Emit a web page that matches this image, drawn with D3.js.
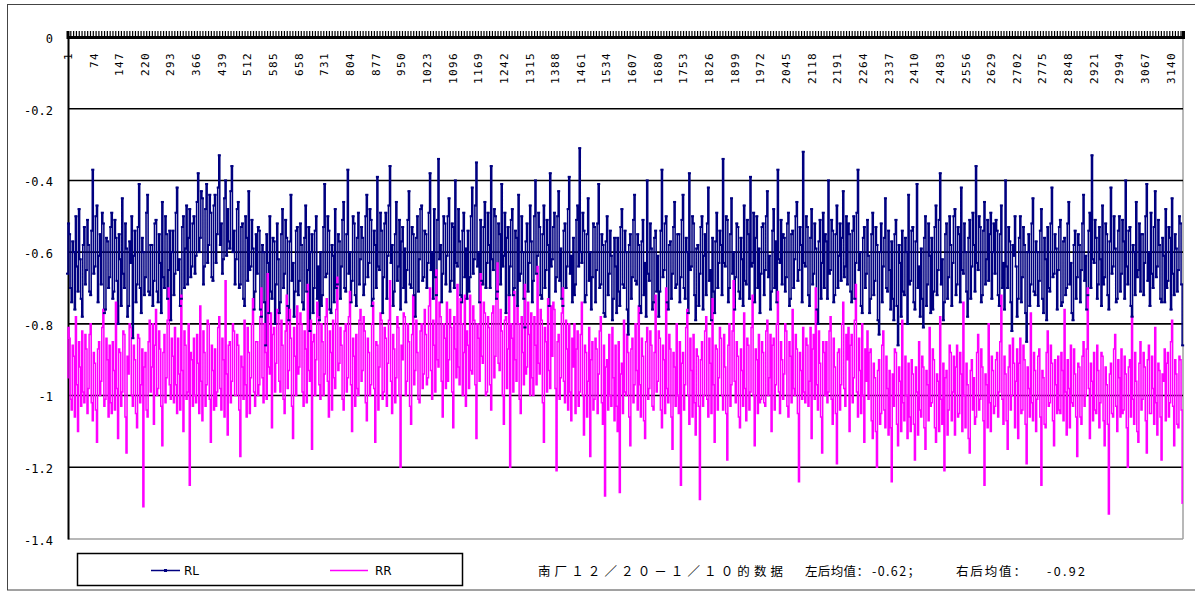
<!DOCTYPE html>
<html>
<head>
<meta charset="utf-8">
<script src="https://cdn.jsdelivr.net/npm/d3@7"></script>
<style>
  html, body { margin: 0; padding: 0; background: #fff; }
  svg { display: block; }
  .ylab text { font-family: "DejaVu Sans Mono", monospace; font-size: 12px; fill: #000; }
  .xlab text { font-family: "DejaVu Sans Mono", monospace; font-size: 11px; fill: #000; letter-spacing: 1.4px; }
  .legend text { font-family: "DejaVu Sans", sans-serif; font-size: 12px; fill: #000; }
  .note { font-family: "Noto Sans CJK SC", sans-serif; font-size: 12.5px; fill: #000; }
</style>
</head>
<body>
<svg id="chart" width="1195" height="592"></svg>
<script>
// readings 1..3176, one value kept for every 3rd reading
const nReadings = 3176;
const sampleStep = 3;

const tickLabels = [1, 74, 147, 220, 293, 366, 439, 512, 585, 658, 731, 804, 877, 950, 1023, 1096,
  1169, 1242, 1315, 1388, 1461, 1534, 1607, 1680, 1753, 1826, 1899, 1972, 2045, 2118, 2191,
  2264, 2337, 2410, 2483, 2556, 2629, 2702, 2775, 2848, 2921, 2994, 3067, 3140];

const yTicks = [0, -0.2, -0.4, -0.6, -0.8, -1, -1.2, -1.4];

const seriesNames = ['RL', 'RR'];
const noteText = ['南厂１２／２０－１／１０的数据', '左后均值：', '-0.62；', '右后均值：', '-0.92'];

// RL (rear left)
const rl = [
  -0.66,-0.52,-0.55,-0.70,-0.74,-0.57,-0.60,-0.76,-0.50,-0.64,-0.71,-0.48,-0.62,-0.73,-0.78,-0.58,-0.53,-0.69,-0.65,-0.51,
  -0.58,-0.71,-0.72,-0.54,-0.37,-0.66,-0.64,-0.50,-0.47,-0.74,-0.61,-0.55,-0.69,-0.49,-0.52,-0.77,-0.76,-0.56,-0.57,-0.70,
  -0.67,-0.53,-0.49,-0.73,-0.71,-0.51,-0.56,-0.68,-0.80,-0.55,-0.62,-0.75,-0.45,-0.66,-0.70,-0.52,-0.59,-0.78,-0.75,-0.57,
  -0.63,-0.50,-0.84,-0.61,-0.54,-0.74,-0.69,-0.53,-0.41,-0.70,-0.77,-0.56,-0.60,-0.72,-0.67,-0.49,-0.44,-0.71,-0.72,-0.58,
  -0.58,-0.75,-0.68,-0.52,-0.51,-0.71,-0.74,-0.55,-0.63,-0.77,-0.46,-0.67,-0.70,-0.50,-0.55,-0.73,-0.65,-0.54,-0.79,-0.60,
  -0.54,-0.72,-0.66,-0.49,-0.42,-0.65,-0.62,-0.75,-0.73,-0.53,-0.50,-0.70,-0.59,-0.47,-0.69,-0.56,-0.48,-0.67,-0.64,-0.52,
  -0.50,-0.66,-0.61,-0.46,-0.38,-0.60,-0.56,-0.43,-0.45,-0.69,-0.64,-0.48,-0.41,-0.63,-0.58,-0.44,-0.49,-0.67,-0.68,-0.47,
  -0.44,-0.63,-0.55,-0.42,-0.33,-0.58,-0.52,-0.66,-0.62,-0.45,-0.40,-0.61,-0.48,-0.57,-0.59,-0.43,-0.36,-0.60,-0.54,-0.69,
  -0.62,-0.48,-0.46,-0.70,-0.69,-0.53,-0.52,-0.73,-0.75,-0.50,-0.56,-0.68,-0.43,-0.65,-0.64,-0.51,-0.59,-0.76,-0.71,-0.55,
  -0.66,-0.53,-0.54,-0.76,-0.78,-0.58,-0.60,-0.74,-0.86,-0.55,-0.63,-0.77,-0.50,-0.71,-0.73,-0.56,-0.57,-0.80,-0.69,-0.52,
  -0.62,-0.77,-0.74,-0.55,-0.48,-0.70,-0.66,-0.51,-0.56,-0.75,-0.79,-0.57,-0.44,-0.68,-0.63,-0.78,-0.71,-0.54,-0.53,-0.72,
  -0.68,-0.52,-0.58,-0.74,-0.76,-0.56,-0.47,-0.71,-0.65,-0.53,-0.82,-0.60,-0.55,-0.77,-0.70,-0.54,-0.50,-0.73,-0.64,-0.79,
  -0.60,-0.75,-0.72,-0.53,-0.41,-0.67,-0.66,-0.50,-0.54,-0.76,-0.77,-0.58,-0.61,-0.74,-0.48,-0.70,-0.69,-0.55,-0.57,-0.73,
  -0.64,-0.51,-0.46,-0.70,-0.71,-0.55,-0.37,-0.66,-0.60,-0.74,-0.68,-0.50,-0.52,-0.72,-0.75,-0.56,-0.49,-0.69,-0.62,-0.53,
  -0.56,-0.72,-0.69,-0.50,-0.44,-0.67,-0.63,-0.48,-0.51,-0.75,-0.73,-0.54,-0.58,-0.70,-0.39,-0.64,-0.65,-0.49,-0.54,-0.77,
  -0.67,-0.52,-0.49,-0.73,-0.61,-0.47,-0.36,-0.63,-0.58,-0.75,-0.71,-0.55,-0.46,-0.68,-0.64,-0.51,-0.76,-0.57,-0.53,-0.70,
  -0.59,-0.74,-0.65,-0.51,-0.43,-0.69,-0.70,-0.53,-0.55,-0.72,-0.78,-0.56,-0.50,-0.71,-0.62,-0.48,-0.47,-0.68,-0.67,-0.54,
  -0.55,-0.70,-0.63,-0.49,-0.38,-0.65,-0.60,-0.73,-0.48,-0.67,-0.72,-0.51,-0.34,-0.62,-0.58,-0.74,-0.66,-0.50,-0.52,-0.69,
  -0.61,-0.50,-0.45,-0.71,-0.68,-0.52,-0.53,-0.70,-0.40,-0.63,-0.64,-0.48,-0.57,-0.72,-0.74,-0.54,-0.49,-0.67,-0.59,-0.73,
  -0.54,-0.71,-0.67,-0.50,-0.42,-0.66,-0.62,-0.47,-0.35,-0.64,-0.60,-0.74,-0.51,-0.68,-0.69,-0.53,-0.46,-0.70,-0.63,-0.49,
  -0.58,-0.70,-0.36,-0.62,-0.65,-0.48,-0.50,-0.73,-0.71,-0.52,-0.55,-0.69,-0.41,-0.64,-0.61,-0.49,-0.77,-0.56,-0.53,-0.72,
  -0.64,-0.51,-0.48,-0.72,-0.70,-0.54,-0.56,-0.75,-0.44,-0.68,-0.66,-0.50,-0.60,-0.73,-0.81,-0.57,-0.52,-0.71,-0.63,-0.47,
  -0.57,-0.74,-0.68,-0.50,-0.40,-0.66,-0.61,-0.49,-0.53,-0.72,-0.73,-0.55,-0.47,-0.70,-0.65,-0.51,-0.58,-0.75,-0.38,-0.64,
  -0.62,-0.53,-0.49,-0.71,-0.67,-0.50,-0.43,-0.68,-0.59,-0.73,-0.75,-0.54,-0.52,-0.70,-0.64,-0.48,-0.39,-0.66,-0.61,-0.74,
  -0.56,-0.72,-0.69,-0.51,-0.47,-0.64,-0.31,-0.60,-0.63,-0.49,-0.54,-0.74,-0.72,-0.55,-0.45,-0.68,-0.60,-0.76,-0.67,-0.52,
  -0.53,-0.74,-0.65,-0.52,-0.41,-0.70,-0.69,-0.55,-0.58,-0.77,-0.78,-0.57,-0.50,-0.72,-0.66,-0.54,-0.61,-0.79,-0.73,-0.56,
  -0.64,-0.77,-0.56,-0.71,-0.75,-0.53,-0.48,-0.69,-0.70,-0.54,-0.60,-0.76,-0.83,-0.58,-0.55,-0.73,-0.67,-0.51,-0.44,-0.68,
  -0.69,-0.55,-0.58,-0.75,-0.77,-0.57,-0.51,-0.72,-0.63,-0.78,-0.40,-0.66,-0.68,-0.52,-0.59,-0.76,-0.74,-0.56,-0.54,-0.71,
  -0.61,-0.78,-0.71,-0.54,-0.37,-0.67,-0.65,-0.52,-0.50,-0.74,-0.76,-0.58,-0.57,-0.73,-0.66,-0.53,-0.46,-0.70,-0.69,-0.55,
  -0.55,-0.74,-0.67,-0.51,-0.44,-0.70,-0.73,-0.56,-0.60,-0.77,-0.38,-0.65,-0.64,-0.50,-0.52,-0.72,-0.79,-0.59,-0.58,-0.75,
  -0.66,-0.53,-0.50,-0.76,-0.61,-0.55,-0.72,-0.52,-0.42,-0.68,-0.65,-0.79,-0.56,-0.71,-0.77,-0.57,-0.49,-0.70,-0.63,-0.54,
  -0.58,-0.72,-0.34,-0.63,-0.64,-0.50,-0.51,-0.74,-0.70,-0.55,-0.45,-0.66,-0.60,-0.76,-0.67,-0.52,-0.53,-0.71,-0.73,-0.56,
  -0.62,-0.75,-0.47,-0.68,-0.69,-0.51,-0.55,-0.73,-0.39,-0.64,-0.63,-0.49,-0.74,-0.56,-0.50,-0.70,-0.59,-0.77,-0.66,-0.53,
  -0.52,-0.72,-0.65,-0.50,-0.43,-0.67,-0.61,-0.76,-0.71,-0.54,-0.48,-0.70,-0.57,-0.74,-0.37,-0.62,-0.63,-0.51,-0.69,-0.55,
  -0.56,-0.71,-0.67,-0.52,-0.49,-0.75,-0.73,-0.55,-0.54,-0.70,-0.62,-0.50,-0.46,-0.68,-0.65,-0.53,-0.58,-0.74,-0.32,-0.63,
  -0.64,-0.50,-0.53,-0.72,-0.75,-0.56,-0.48,-0.69,-0.66,-0.52,-0.59,-0.76,-0.80,-0.57,-0.51,-0.73,-0.63,-0.49,-0.70,-0.55,
  -0.57,-0.73,-0.40,-0.66,-0.65,-0.51,-0.54,-0.74,-0.72,-0.55,-0.47,-0.70,-0.61,-0.52,-0.68,-0.56,-0.43,-0.67,-0.64,-0.50,
  -0.69,-0.52,-0.55,-0.71,-0.74,-0.54,-0.50,-0.73,-0.63,-0.49,-0.37,-0.65,-0.60,-0.75,-0.77,-0.56,-0.53,-0.70,-0.66,-0.51,
  -0.61,-0.77,-0.73,-0.55,-0.49,-0.72,-0.68,-0.53,-0.58,-0.79,-0.83,-0.60,-0.52,-0.74,-0.64,-0.56,-0.45,-0.70,-0.71,-0.54,
  -0.65,-0.76,-0.57,-0.73,-0.79,-0.55,-0.51,-0.75,-0.86,-0.58,-0.63,-0.78,-0.54,-0.71,-0.72,-0.56,-0.60,-0.80,-0.44,-0.69,
  -0.68,-0.54,-0.53,-0.74,-0.76,-0.57,-0.41,-0.70,-0.64,-0.78,-0.59,-0.73,-0.81,-0.56,-0.50,-0.75,-0.69,-0.52,-0.61,-0.77,
  -0.56,-0.76,-0.71,-0.53,-0.47,-0.72,-0.65,-0.51,-0.38,-0.69,-0.62,-0.79,-0.74,-0.55,-0.52,-0.73,-0.67,-0.50,-0.58,-0.75,
  -0.63,-0.50,-0.48,-0.72,-0.69,-0.53,-0.55,-0.74,-0.42,-0.65,-0.66,-0.52,-0.60,-0.71,-0.78,-0.56,-0.51,-0.73,-0.64,-0.49,
  -0.58,-0.71,-0.36,-0.63,-0.65,-0.50,-0.53,-0.74,-0.72,-0.54,-0.46,-0.69,-0.62,-0.51,-0.68,-0.55,-0.49,-0.73,-0.60,-0.52,
  -0.66,-0.51,-0.54,-0.72,-0.75,-0.55,-0.47,-0.70,-0.63,-0.76,-0.40,-0.64,-0.70,-0.53,-0.57,-0.74,-0.82,-0.58,-0.61,-0.50,
  -0.64,-0.78,-0.73,-0.56,-0.50,-0.74,-0.67,-0.53,-0.58,-0.77,-0.85,-0.60,-0.55,-0.75,-0.69,-0.52,-0.45,-0.71,-0.72,-0.57,
  -0.60,-0.75,-0.68,-0.54,-0.48,-0.73,-0.77,-0.56,-0.62,-0.79,-0.53,-0.70,-0.71,-0.52,-0.42,-0.67,-0.66,-0.55,-0.59,-0.76,
  -0.65,-0.53,-0.51,-0.75,-0.74,-0.57,-0.56,-0.72,-0.70,-0.52,-0.46,-0.69,-0.63,-0.77,-0.79,-0.58,-0.54,-0.73,-0.67,-0.55,
  -0.58,-0.74,-0.65,-0.52,-0.44,-0.68,-0.61,-0.76,-0.72,-0.54,-0.49,-0.70,-0.33,-0.62,-0.63,-0.51,-0.56,-0.73,-0.69,-0.53,
  -0.62,-0.75,-0.47,-0.69,-0.67,-0.52,-0.55,-0.72,-0.76,-0.57,-0.42,-0.66,-0.64,-0.50,-0.59,-0.74,-0.73,-0.54,-0.50,-0.71,
  -0.66,-0.51,-0.57,-0.73,-0.40,-0.64,-0.69,-0.54,-0.53,-0.75,-0.78,-0.58,-0.60,-0.72,-0.46,-0.67,-0.65,-0.52,-0.71,-0.55,
  -0.55,-0.72,-0.63,-0.50,-0.41,-0.68,-0.60,-0.75,-0.49,-0.66,-0.70,-0.53,-0.43,-0.67,-0.64,-0.51,-0.58,-0.73,-0.74,-0.56,
  -0.61,-0.74,-0.48,-0.70,-0.68,-0.53,-0.56,-0.76,-0.45,-0.66,-0.72,-0.55,-0.59,-0.71,-0.65,-0.50,-0.52,-0.69,-0.86
];

// RR (rear right)
const rr = [
  -0.95,-0.81,-0.84,-1.01,-1.04,-0.86,-0.89,-1.06,-0.78,-0.97,-1.10,-0.85,-0.92,-1.03,-0.82,-0.99,-1.02,-0.83,-0.87,-1.05,
  -0.98,-0.83,-0.80,-1.02,-1.07,-0.88,-0.91,-1.04,-1.13,-0.87,-0.85,-1.00,-0.96,-0.81,-0.76,-1.03,-1.01,-0.84,-0.90,-1.06,
  -0.86,-1.02,-1.05,-0.85,-0.93,-1.04,-0.74,-0.98,-1.12,-0.87,-0.88,-1.03,-0.99,-0.82,-0.83,-1.06,-1.16,-0.89,-0.94,-0.80,
  -0.81,-1.00,-1.03,-0.86,-0.90,-1.05,-1.09,-0.83,-0.84,-1.02,-0.97,-0.87,-1.31,-0.92,-0.88,-1.04,-1.06,-0.85,-0.79,-0.99,
  -0.92,-0.80,-1.08,-0.86,-0.76,-1.00,-0.98,-0.82,-0.87,-1.03,-1.14,-0.88,-0.83,-1.02,-0.95,-0.79,-0.70,-0.97,-1.01,-0.84,
  -0.89,-1.02,-0.81,-0.97,-1.05,-0.84,-0.94,-1.04,-0.72,-0.93,-1.10,-0.82,-0.86,-1.01,-0.99,-0.80,-1.25,-0.88,-0.90,-1.03,
  -0.84,-1.00,-1.02,-0.83,-0.91,-1.05,-0.75,-0.96,-1.07,-0.82,-0.88,-1.03,-0.97,-0.79,-0.80,-1.01,-1.13,-0.86,-0.93,-1.04,
  -0.87,-1.03,-0.99,-0.81,-0.78,-0.98,-1.04,-0.84,-0.90,-1.06,-0.68,-0.94,-1.11,-0.86,-0.85,-1.02,-0.96,-0.80,-0.82,-1.00,
  -1.00,-0.83,-0.86,-1.04,-1.17,-0.89,-0.92,-1.01,-0.79,-0.97,-1.06,-0.81,-0.88,-1.05,-0.95,-0.80,-0.73,-0.99,-1.03,-0.85,
  -0.85,-1.00,-0.97,-0.78,-0.70,-0.95,-1.02,-0.80,-0.88,-1.01,-0.66,-0.92,-0.94,-0.77,-1.09,-0.83,-0.81,-0.99,-0.91,-0.76,
  -0.77,-0.96,-0.99,-0.79,-0.86,-1.01,-1.05,-0.82,-0.72,-0.98,-0.93,-0.76,-0.84,-1.03,-1.12,-0.81,-0.89,-1.00,-0.75,-0.94,
  -0.92,-0.77,-0.80,-0.99,-1.03,-0.82,-0.87,-1.02,-0.69,-0.93,-0.96,-0.79,-1.15,-0.85,-0.83,-1.00,-0.90,-0.74,-0.78,-0.97,
  -1.01,-0.80,-0.85,-1.00,-0.94,-0.78,-0.73,-0.96,-1.06,-0.82,-0.88,-1.04,-0.79,-0.95,-0.98,-0.76,-0.67,-0.93,-0.91,-0.81,
  -0.86,-1.01,-1.04,-0.82,-0.80,-0.99,-0.95,-0.78,-0.71,-0.97,-1.10,-0.84,-0.89,-1.03,-0.83,-0.98,-1.00,-0.79,-0.76,-0.96,
  -0.93,-0.78,-0.82,-1.02,-1.07,-0.84,-0.88,-1.00,-0.97,-0.80,-0.74,-0.98,-1.13,-0.85,-0.86,-1.04,-0.92,-0.77,-0.79,-1.01,
  -0.99,-0.81,-0.84,-1.03,-0.91,-0.79,-0.68,-0.96,-1.05,-0.83,-0.87,-1.02,-0.95,-0.78,-0.81,-1.00,-1.20,-0.86,-0.90,-0.77,
  -0.78,-1.00,-0.96,-0.80,-0.85,-1.03,-1.08,-0.83,-0.72,-0.97,-0.93,-0.79,-0.88,-1.01,-1.02,-0.82,-0.80,-0.98,-0.94,-0.76,
  -0.83,-0.97,-0.95,-0.75,-0.70,-0.93,-1.01,-0.79,-0.86,-0.99,-0.65,-0.90,-0.92,-0.74,-0.78,-0.96,-1.06,-0.80,-0.84,-0.98,
  -0.74,-0.96,-0.90,-0.76,-0.81,-0.99,-1.09,-0.78,-0.87,-0.95,-0.69,-0.92,-0.97,-0.73,-0.80,-1.00,-0.88,-0.72,-1.03,-0.82,
  -0.86,-0.98,-0.72,-0.93,-0.94,-0.75,-0.79,-0.97,-1.12,-0.80,-0.84,-0.96,-0.66,-0.89,-0.91,-0.74,-0.77,-1.00,-0.99,-0.78,
  -0.81,-0.97,-1.04,-0.77,-0.75,-0.95,-0.89,-0.73,-0.63,-0.91,-0.93,-0.76,-0.82,-1.00,-1.08,-0.79,-0.78,-0.98,-0.87,-0.72,
  -1.20,-0.80,-0.84,-0.99,-0.71,-0.90,-0.96,-0.75,-0.80,-1.01,-1.05,-0.78,-0.88,-0.97,-0.69,-0.94,-0.92,-0.74,-0.83,-1.00,
  -0.77,-0.95,-1.00,-0.78,-0.86,-0.97,-0.64,-0.91,-0.94,-0.76,-0.79,-1.02,-1.13,-0.81,-0.85,-0.99,-0.73,-0.93,-0.98,-0.75,
  -0.89,-0.74,-0.76,-0.98,-1.21,-0.85,-0.83,-1.01,-0.95,-0.77,-0.70,-0.96,-1.02,-0.79,-0.87,-1.04,-0.80,-0.99,-1.07,-0.84,
  -0.92,-0.80,-1.05,-0.87,-0.82,-1.03,-0.99,-0.83,-0.74,-1.00,-1.11,-0.86,-0.88,-1.06,-0.96,-0.81,-1.17,-0.90,-0.85,-1.04,
  -1.01,-0.84,-0.87,-1.05,-0.94,-0.82,-0.78,-1.02,-1.08,-0.86,-1.28,-0.92,-0.90,-1.04,-0.83,-1.00,-1.03,-0.81,-0.95,-1.07,
  -0.86,-1.03,-1.10,-0.85,-1.27,-0.94,-0.91,-1.05,-0.79,-0.99,-1.00,-0.83,-0.88,-1.06,-1.14,-0.87,-0.84,-1.02,-0.97,-0.80,
  -0.93,-1.04,-0.75,-0.97,-1.06,-0.84,-0.89,-1.07,-1.12,-0.85,-0.81,-1.01,-0.98,-0.82,-0.86,-1.03,-1.04,-0.88,-0.72,-0.99,
  -0.96,-0.82,-0.84,-1.04,-1.09,-0.86,-0.90,-1.05,-0.70,-0.98,-1.02,-0.83,-0.87,-1.06,-1.15,-0.88,-0.92,-1.03,-0.80,-1.00,
  -1.05,-0.85,-1.25,-0.91,-0.88,-1.04,-0.97,-0.81,-0.76,-1.00,-1.08,-0.84,-0.93,-1.06,-0.83,-1.02,-1.11,-0.87,-0.89,-1.03,
  -1.29,-0.90,-0.85,-1.03,-1.00,-0.82,-0.78,-1.01,-1.06,-0.84,-0.91,-1.05,-0.73,-0.97,-1.13,-0.86,-0.87,-1.04,-0.95,-0.81,
  -0.84,-1.00,-1.04,-0.83,-0.92,-1.05,-1.18,-0.86,-0.80,-1.03,-0.97,-0.82,-0.68,-0.96,-1.02,-0.85,-0.89,-1.06,-1.09,-0.87,
  -0.93,-1.03,-0.77,-0.98,-1.07,-0.84,-0.86,-1.04,-0.99,-0.81,-0.72,-1.00,-1.14,-0.87,-0.90,-1.05,-0.83,-1.02,-1.01,-0.85,
  -0.88,-1.02,-1.03,-0.82,-0.79,-1.00,-0.95,-0.83,-1.10,-0.86,-0.84,-1.04,-0.97,-0.80,-0.71,-0.99,-1.05,-0.85,-0.90,-1.01,
  -0.94,-0.80,-0.82,-1.03,-1.06,-0.85,-0.89,-1.02,-0.76,-0.98,-1.00,-0.83,-0.87,-1.05,-1.24,-0.88,-0.93,-1.01,-0.81,-0.99,
  -1.02,-0.84,-0.86,-1.03,-0.96,-0.81,-1.12,-0.87,-0.83,-1.01,-0.70,-0.97,-1.04,-0.82,-0.91,-1.06,-1.16,-0.85,-0.88,-1.00,
  -0.85,-1.02,-0.99,-0.82,-0.78,-1.01,-1.08,-0.84,-0.92,-1.05,-1.19,-0.88,-0.87,-1.04,-0.97,-0.80,-0.74,-0.98,-1.03,-0.83,
  -0.90,-0.81,-1.10,-0.86,-0.83,-1.02,-0.95,-0.79,-0.69,-0.99,-1.06,-0.84,-0.93,-1.05,-0.80,-1.00,-1.13,-0.87,-0.96,-0.82,
  -1.01,-0.88,-0.87,-1.07,-1.12,-0.91,-0.95,-1.10,-1.20,-0.93,-0.90,-1.08,-1.05,-0.86,-0.82,-1.04,-1.09,-0.89,-0.98,-1.11,
  -0.93,-1.09,-1.24,-0.94,-1.03,-0.87,-0.88,-1.08,-1.14,-0.92,-0.96,-1.10,-0.79,-1.02,-1.07,-0.89,-1.00,-1.12,-0.91,-1.06,
  -1.10,-0.90,-0.94,-1.08,-1.18,-0.92,-0.99,-1.11,-0.85,-1.04,-1.06,-0.89,-0.92,-1.09,-1.15,-0.93,-0.97,-1.07,-0.81,-1.03,
  -1.02,-0.87,-0.90,-1.09,-1.13,-0.94,-0.96,-1.10,-0.78,-1.01,-1.08,-0.91,-1.21,-0.95,-0.93,-1.11,-1.04,-0.86,-0.88,-1.07,
  -0.99,-0.89,-1.11,-0.92,-0.86,-1.06,-1.05,-0.88,-0.94,-1.10,-0.74,-1.00,-1.09,-0.91,-0.97,-1.12,-1.16,-0.93,-0.90,-1.04,
  -0.95,-1.08,-1.06,-0.88,-0.83,-1.04,-1.01,-0.87,-0.92,-1.07,-1.25,-0.94,-0.97,-1.09,-0.80,-1.02,-1.10,-0.89,-0.93,-1.05,
  -1.03,-0.90,-0.88,-1.06,-0.99,-0.85,-0.72,-1.01,-1.08,-0.89,-0.94,-1.07,-1.15,-0.92,-0.86,-1.04,-1.00,-0.84,-0.91,-1.09,
  -0.96,-0.87,-1.12,-0.91,-0.84,-1.05,-1.04,-0.86,-0.90,-1.08,-1.19,-0.92,-0.98,-1.06,-0.77,-1.02,-1.07,-0.88,-0.93,-1.10,
  -1.01,-0.89,-0.87,-1.06,-1.25,-0.93,-0.95,-1.08,-1.09,-0.88,-0.82,-1.03,-1.02,-0.86,-0.91,-1.07,-1.14,-0.90,-0.97,-1.05,
  -0.89,-1.04,-1.05,-0.88,-0.93,-1.07,-0.76,-0.99,-1.11,-0.90,-0.98,-1.09,-0.86,-1.02,-1.03,-0.87,-0.94,-1.06,-1.17,-0.91,
  -0.92,-1.06,-1.08,-0.89,-0.85,-1.03,-1.00,-0.87,-0.70,-0.98,-1.12,-0.91,-0.96,-1.07,-0.88,-1.04,-1.05,-0.86,-0.93,-1.09,
  -1.02,-0.88,-0.89,-1.07,-1.14,-0.92,-0.97,-1.08,-1.33,-0.94,-0.91,-1.05,-1.06,-0.87,-0.83,-1.03,-1.10,-0.90,-0.95,-1.06,
  -0.87,-1.05,-1.04,-0.89,-0.94,-1.09,-1.20,-0.92,-0.90,-1.06,-0.78,-1.01,-1.08,-0.88,-0.96,-1.10,-1.13,-0.91,-0.85,-1.04,
  -1.01,-0.88,-0.92,-1.07,-1.16,-0.90,-0.86,-1.05,-1.05,-0.89,-0.98,-1.08,-0.81,-1.02,-1.11,-0.91,-0.93,-1.06,-1.18,-0.94,
  -0.96,-0.87,-1.07,-0.91,-0.88,-1.06,-1.02,-0.85,-0.79,-1.03,-1.14,-0.90,-0.94,-1.08,-1.09,-0.89,-0.90,-1.04,-1.30
];

const colors = ['#000080', '#ff00ff'];

const svg = d3.select('#chart');

const plot = { left: 68, right: 1183, top: 37, bottom: 539 };

const x = d3.scaleLinear()
  .domain([1, nReadings])
  .range([plot.left - 0.5, plot.right]);

const y = d3.scaleLinear()
  .domain([-1.4, 0])
  .range([plot.bottom, plot.top]);

// outer chart frame
svg.append('rect')
  .attr('x', 7.5).attr('y', 4.5)
  .attr('width', 1200).attr('height', 585.5)
  .attr('fill', '#fff')
  .attr('stroke', '#444')
  .attr('stroke-width', 1);

// plot frame: grey right/bottom edges
svg.append('line')
  .attr('x1', plot.right).attr('x2', plot.right)
  .attr('y1', plot.top).attr('y2', plot.bottom)
  .attr('stroke', '#a0a0a0').attr('stroke-width', 1.5);
svg.append('line')
  .attr('x1', plot.left).attr('x2', plot.right)
  .attr('y1', y(-1.4)).attr('y2', y(-1.4))
  .attr('stroke', '#a0a0a0').attr('stroke-width', 1.5);

// gridlines
svg.append('g')
  .selectAll('line')
  .data(yTicks.filter(d => d < 0 && d > -1.4))
  .enter().append('line')
  .attr('x1', plot.left).attr('x2', plot.right)
  .attr('y1', d => y(d)).attr('y2', d => y(d))
  .attr('stroke', '#000')
  .attr('stroke-width', 1.6);

// y axis labels
const leftAxis = d3.axisLeft(y)
  .tickValues(yTicks)
  .tickSize(0)
  .tickPadding(15)
  .tickFormat(d => String(d));
const gy = svg.append('g')
  .attr('class', 'ylab')
  .attr('transform', `translate(${plot.left},0)`)
  .call(leftAxis);
gy.select('.domain').attr('stroke', '#000').attr('stroke-width', 2);
gy.selectAll('text').attr('dy', '0.45em');

// series lines; at ~1px per reading the segments are almost vertical,
// so a step curve gives the same solid look as the original bitmap
const sampleX = (d, i) => x(1 + i * sampleStep);
const line = d3.line()
  .x(sampleX)
  .y(d => y(d))
  .curve(d3.curveStep);

const series = [rl, rr];
series.forEach((vals, k) => {
  svg.append('path')
    .datum(vals)
    .attr('fill', 'none')
    .attr('stroke', colors[k])
    .attr('stroke-width', 1.5)
    .attr('d', line);
});

// RL markers
svg.append('g')
  .selectAll('rect')
  .data(rl)
  .enter().append('rect')
  .attr('x', (d, i) => sampleX(d, i) - 1.5)
  .attr('y', d => y(d) - 1)
  .attr('width', 3)
  .attr('height', 2)
  .attr('fill', colors[0]);

// top category axis (value 0) with dense tick marks
const tickMarks = d3.range(1, nReadings + 1, 8);
const topAxis = d3.axisTop(x)
  .tickValues(tickMarks)
  .tickSize(6)
  .tickFormat('');
const gx = svg.append('g')
  .attr('transform', `translate(0,${y(0)})`)
  .call(topAxis);
gx.select('.domain').attr('stroke', '#000').attr('stroke-width', 3);
gx.selectAll('.tick line').attr('stroke', '#000').attr('stroke-width', 1.2);

// category labels, rotated, under the axis
const labelAxis = d3.axisBottom(x)
  .tickValues(tickLabels)
  .tickSize(0)
  .tickFormat(d => String(d));
const gl = svg.append('g')
  .attr('class', 'xlab')
  .attr('transform', `translate(0,${y(0)})`)
  .call(labelAxis);
gl.select('.domain').remove();
gl.selectAll('text')
  .attr('transform', 'rotate(-90)')
  .attr('x', -15)
  .attr('y', 0)
  .attr('dy', '0.35em')
  .style('text-anchor', 'end');

// legend
const legend = svg.append('g').attr('class', 'legend');
legend.append('rect')
  .attr('x', 77.5).attr('y', 553.5)
  .attr('width', 385).attr('height', 32)
  .attr('fill', '#fff')
  .attr('stroke', '#000')
  .attr('stroke-width', 1.5);

const legendItems = [
  { x1: 151, x2: 180, tx: 184 },
  { x1: 330, x2: 368, tx: 375 }
];
legendItems.forEach((it, k) => {
  legend.append('line')
    .attr('x1', it.x1).attr('x2', it.x2)
    .attr('y1', 570.5).attr('y2', 570.5)
    .attr('stroke', colors[k])
    .attr('stroke-width', 1.5);
  if (k === 0) {
    legend.append('rect')
      .attr('x', (it.x1 + it.x2) / 2 - 1.5).attr('y', 569)
      .attr('width', 3).attr('height', 3)
      .attr('fill', colors[0]);
  }
  legend.append('text')
    .attr('x', it.tx).attr('y', 575)
    .text(seriesNames[k]);
});

// note text next to the legend
const notePos = [
  { x: 538, len: 245 },
  { x: 805, len: 64 },
  { x: 872, len: 48 },
  { x: 956, len: 70 },
  { x: 1047, len: 38 }
];
noteText.forEach((t, i) => {
  svg.append('text')
    .attr('class', 'note')
    .attr('x', notePos[i].x)
    .attr('y', 576)
    .attr('textLength', notePos[i].len)
    .attr('lengthAdjust', 'spacing')
    .text(t);
});
</script>
</body>
</html>
